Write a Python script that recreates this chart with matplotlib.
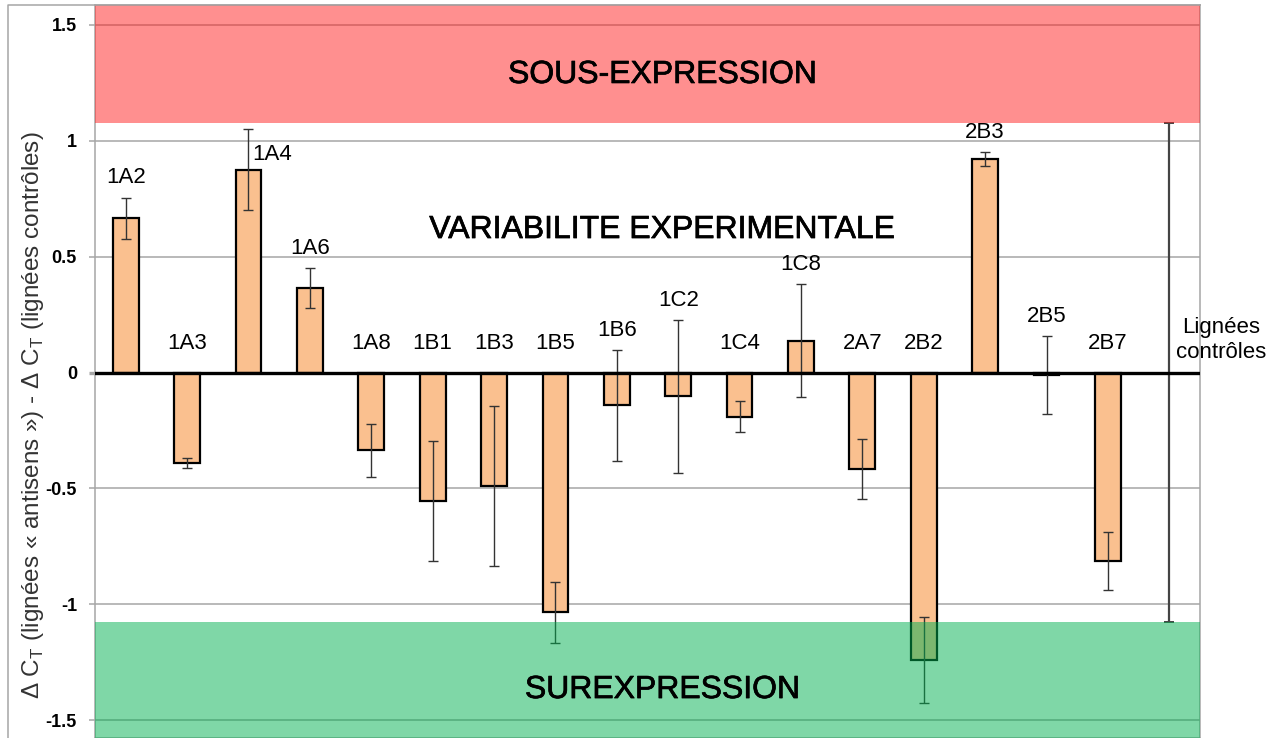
import matplotlib.pyplot as plt
import matplotlib.patheffects as pe
import numpy as np
from matplotlib.lines import Line2D

plt.rcParams['font.family'] = ['Liberation Sans', 'DejaVu Sans']

# antisense lines: mean delta-delta CT and its error
lines = ['1A2', '1A3', '1A4', '1A6', '1A8', '1B1', '1B3', '1B5', '1B6',
         '1C2', '1C4', '1C8', '2A7', '2B2', '2B3', '2B5', '2B7']
ddct = [0.665, -0.39, 0.875, 0.365, -0.335, -0.555, -0.49, -1.035, -0.142,
        -0.103, -0.19, 0.138, -0.415, -1.24, 0.92, -0.012, -0.815]
err = [0.09, 0.02, 0.175, 0.085, 0.115, 0.26, 0.345, 0.13, 0.24,
       0.33, 0.068, 0.245, 0.13, 0.185, 0.03, 0.168, 0.125]

# spread of the control lines, also used as the variability threshold
control_err = 1.075

yticks = [-1.5, -1, -0.5, 0, 0.5, 1, 1.5]
ytick_labels = ['-1.5', '-1', '-0.5', '0', '0.5', '1', '1.5']

fig = plt.figure(figsize=(12.81, 7.38), dpi=100)
ax = fig.add_axes([95 / 1281, 0, 1105 / 1281, 733 / 738])

x = np.arange(len(lines))
ax.bar(x, ddct, width=0.42, color='#FAC08F', edgecolor='black',
       linewidth=1.6, zorder=3)
ax.errorbar(x, ddct, yerr=err, fmt='none', ecolor='#333333',
            elinewidth=1.0, capsize=3.6, capthick=1.0, zorder=4)

# control column: no bar, only its error range
xc = len(lines)
ax.errorbar([xc], [0], yerr=[control_err], fmt='none', ecolor='#444444',
            elinewidth=1.6, capsize=3.6, capthick=1.4, zorder=4)

ax.set_xlim(-0.5, len(lines) + 0.5)
ax.set_ylim(-1.577, 1.586)

# expression zones, drawn semi-transparent over the bars
ax.axhspan(control_err, 2, color='#FF2020', alpha=0.5, lw=0, zorder=5)
ax.axhspan(-2, -control_err, color='#00B050', alpha=0.5, lw=0, zorder=5)

for y in yticks:
    if y != 0:
        ax.axhline(y, color='#A6A6A6', lw=1.1, zorder=1)
ax.axhline(0, color='black', lw=2.4, zorder=6)

ax.set_yticks(yticks)
ax.set_yticklabels(ytick_labels, fontsize=13, fontweight='bold')
ax.tick_params(axis='y', length=4, width=1.1, color='#A6A6A6', pad=9)
zero_tick = ax.yaxis.get_major_ticks()[yticks.index(0)].tick1line
zero_tick.set_color('black')
zero_tick.set_markeredgewidth(2.4)
ax.set_xticks([])
for s in ax.spines.values():
    s.set_color('#A6A6A6')
    s.set_linewidth(1.1)

# line names above bars / error bars
for xi, name, v, e in zip(x, lines, ddct, err):
    if name == '1A4':
        ax.text(xi + 0.06, v + 0.02, name, ha='left', va='bottom',
                fontsize=16, zorder=7)
        continue
    ax.text(xi, max(v + e + 0.04, 0.08), name, ha='center', va='bottom',
            fontsize=16, zorder=7)

ax.text(xc + 0.84, 0.14, 'Lignées\ncontrôles', ha='center', va='center',
        fontsize=16, clip_on=False, zorder=7)

heavy = [pe.withStroke(linewidth=0.5, foreground='black')]
ax.text(8.75, 1.284, 'SOUS-EXPRESSION', ha='center', va='center',
        fontsize=23, zorder=7, path_effects=heavy)
ax.text(8.75, 0.615, 'VARIABILITE EXPERIMENTALE', ha='center', va='center',
        fontsize=23, zorder=7, path_effects=heavy)
ax.text(8.75, -1.37, 'SUREXPRESSION', ha='center', va='center',
        fontsize=23, zorder=7, path_effects=heavy)

fig.text(33 / 1281, 1 - 415 / 738,
         'Δ C$_{\\mathregular{T}}$ (lignées « antisens ») - '
         'Δ C$_{\\mathregular{T}}$ (lignées contrôles)',
         rotation=90, ha='center', va='center', fontsize=17.5, color='#333333')

# outer chart frame (left and top edges)
fig.add_artist(Line2D([8 / 1281, 8 / 1281, 1200 / 1281],
                      [0, 1 - 5 / 738, 1 - 5 / 738],
                      color='#A6A6A6', lw=1.1))

fig.savefig('out.png', dpi=100)
